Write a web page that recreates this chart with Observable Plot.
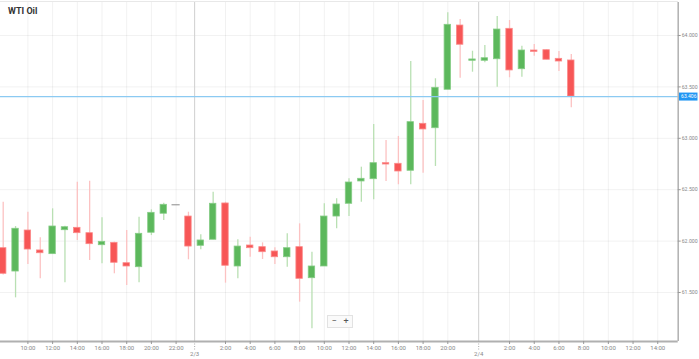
<!DOCTYPE html>
<html>
<head>
<meta charset="utf-8">
<script src="https://cdn.jsdelivr.net/npm/d3@7"></script>
<script src="https://cdn.jsdelivr.net/npm/@observablehq/plot@0.6"></script>
<style>
  body { margin: 0; background: #fff; font-family: Roboto, "Open Sans", sans-serif; }
  #wrap { position: relative; width: 699px; height: 359px; overflow: hidden; }
  #title { position: absolute; left: 8px; top: 6px; font: bold 9px Roboto, sans-serif; color: #333; }
  #zoombox { position: absolute; left: 327px; top: 315px; width: 24px; height: 11px; border: 1px solid #e2e2e2;
    background: #fafafa; font: 9px Roboto, sans-serif; color: #555; display: flex; justify-content: space-around; align-items: center; line-height: 9px; }
  #topline { position: absolute; left: 0; top: 1px; width: 678px; height: 1px; background: #e8e8e8; }
</style>
</head>
<body>
<div id="wrap">
  <div id="topline"></div>
  <div id="chart"></div>
  <div id="title">WTI Oil</div>
  <div id="zoombox"><span>−</span><span>+</span></div>
</div>
<script>
// Hourly candles, 2/2 08:00 → 2/4 07:00 (2/3 22:00 session break skipped)
const times = [
  "2/2 08:00","2/2 09:00","2/2 10:00","2/2 11:00","2/2 12:00","2/2 13:00","2/2 14:00","2/2 15:00",
  "2/2 16:00","2/2 17:00","2/2 18:00","2/2 19:00","2/2 20:00","2/2 21:00","2/2 22:00","2/2 23:00",
  "2/3 00:00","2/3 01:00","2/3 02:00","2/3 03:00","2/3 04:00","2/3 05:00","2/3 06:00","2/3 07:00",
  "2/3 08:00","2/3 09:00","2/3 10:00","2/3 11:00","2/3 12:00","2/3 13:00","2/3 14:00","2/3 15:00",
  "2/3 16:00","2/3 17:00","2/3 18:00","2/3 19:00","2/3 20:00","2/3 21:00","2/3 23:00",
  "2/4 00:00","2/4 01:00","2/4 02:00","2/4 03:00","2/4 04:00","2/4 05:00","2/4 06:00","2/4 07:00"
];
const open  = [61.931,61.704,62.103,61.909,61.873,62.106,62.129,62.077,61.960,61.983,61.785,61.746,62.081,62.266,62.353,62.239,
               61.954,62.013,62.366,61.753,61.957,61.941,61.899,61.843,61.941,61.639,61.753,62.239,62.363,62.580,62.602,62.758,
               62.752,62.684,63.141,63.098,63.472,64.097,63.754,63.754,63.769,64.065,63.672,63.854,63.857,63.773,63.757];
const high  = [62.378,62.142,62.281,62.032,62.314,62.145,62.573,62.583,62.227,61.990,62.103,62.233,62.304,62.369,62.353,62.281,
               62.061,62.476,62.378,62.013,62.038,61.983,61.935,62.071,62.168,61.892,62.363,62.411,62.606,62.719,63.134,62.979,
               63.018,63.747,63.368,63.579,64.221,64.156,63.847,63.903,64.185,64.146,63.896,63.912,63.860,63.844,63.815];
const low   = [61.670,61.448,61.772,61.633,61.873,61.594,62.006,61.811,61.779,61.682,61.568,61.594,62.054,62.200,62.353,61.818,
               61.915,62.013,61.591,61.633,61.843,61.821,61.772,61.746,61.406,61.147,61.753,62.120,62.239,62.378,62.402,62.580,
               62.548,62.548,62.661,62.726,63.472,63.585,63.643,63.734,63.497,63.589,63.594,63.799,63.764,63.650,63.297];
const close = [61.682,62.120,61.918,61.882,62.142,62.135,62.077,61.970,61.993,61.789,61.753,62.071,62.275,62.353,62.353,61.947,
               62.006,62.363,61.760,61.947,61.931,61.892,61.843,61.931,61.633,61.753,62.239,62.356,62.570,62.606,62.758,62.745,
               62.677,63.157,63.086,63.491,64.104,63.910,63.767,63.779,64.058,63.660,63.854,63.841,63.764,63.747,63.406];

// x-axis ticks (slot positions) and labels
const tickSlots  = [2,4,6,8,10,12,14, 18,20,22,24,26,28,30,32,34,36, 41,43,45,47,49,51,53];
const tickLabels = ["10:00","12:00","14:00","16:00","18:00","20:00","22:00",
                    "2:00","4:00","6:00","8:00","10:00","12:00","14:00","16:00","18:00","20:00",
                    "2:00","4:00","6:00","8:00","10:00","12:00","14:00"];
const daySlots  = [15.5, 38.5];
const dayLabels = ["2/3", "2/4"];
const yTicks = [61.5, 62.0, 62.5, 63.0, 63.5, 64.0];

const candles = times.map((t, i) => ({
  i, t, o: open[i], h: high[i], l: low[i], c: close[i],
  dir: close[i] > open[i] ? "up" : close[i] < open[i] ? "down" : "flat"
}));
const bodies = candles.filter(d => d.dir !== "flat");
const flats = candles.filter(d => d.dir === "flat");
const last = close[close.length - 1];

const xDomain = [-0.219, 54.656];
const yDomain = [61.0233, 64.321];
const pxPerUnit = 339 / (yDomain[1] - yDomain[0]);
const slotPx = 677.7 / (xDomain[1] - xDomain[0]);

const GREEN = "#5cb85c", RED = "#f75656";
const fillC = d => d.dir === "up" ? GREEN : RED;
const edgeC = d => d.dir === "up" ? "#86cc86" : "#fb8a8a";
const wickC = d => d.dir === "up" ? "#b9e0b3" : d.dir === "down" ? "#fcc2c2" : "#999";
const tickMap = new Map(tickSlots.map((s, k) => [s, tickLabels[k]]));

const chart = Plot.plot({
  width: 699, height: 359,
  marginLeft: 0, marginRight: 21.3, marginTop: 2, marginBottom: 18,
  style: { fontFamily: "Roboto, sans-serif", background: "transparent", overflow: "visible" },
  x: { type: "linear", domain: xDomain, axis: null },
  y: { type: "linear", domain: yDomain, axis: null },
  marks: [
    Plot.gridX(tickSlots, { stroke: "#000", strokeOpacity: 0.055 }),
    Plot.gridY(yTicks, { stroke: "#000", strokeOpacity: 0.055 }),
    Plot.ruleX(daySlots, { stroke: "#cfcfcf", strokeWidth: 1 }),
    // candles
    Plot.ruleX(candles.filter(d => d.dir !== "flat"), { x: "i", y1: "l", y2: "h", stroke: wickC, strokeWidth: 1.3 }),
    Plot.rect(bodies, {
      x1: d => d.i - 0.26, x2: d => d.i + 0.26,
      y1: d => Math.min(d.o, d.c), y2: d => Math.max(d.o, d.c),
      fill: fillC, stroke: edgeC, strokeWidth: 0.8
    }),
    Plot.ruleY(flats, { y: "c", x1: d => d.i - 0.33, x2: d => d.i + 0.33, stroke: "#8a8a8a", strokeWidth: 1 }),
    // current price line
    Plot.ruleY([last], { x1: xDomain[0], x2: xDomain[1], stroke: "#8ccaf2", strokeWidth: 1.3 }),
    // axes lines
    Plot.ruleX([xDomain[1]], { stroke: "#b0b0b0", strokeWidth: 1.5 }),
    Plot.ruleY([yDomain[0]], { x1: xDomain[0], x2: xDomain[1], stroke: "#b0b0b0", strokeWidth: 2 }),
    // y axis ticks + labels (right)
    Plot.ruleY(yTicks, { x1: xDomain[1], x2: xDomain[1] + 3 / slotPx, stroke: "#999" }),
    Plot.text(yTicks, { x: xDomain[1], y: d => d, dx: 3.5, text: d => d3.format(".3f")(d), textAnchor: "start", fontSize: 5.2, fill: "#888" }),
    // current price label
    Plot.ruleY([last], { x1: xDomain[1] + 1.3 / slotPx, x2: xDomain[1] + 19.8 / slotPx, stroke: "#2196f3", strokeWidth: 8 }),
    Plot.text([last], { x: xDomain[1], y: d => d, dx: 10.6, text: d => d3.format(".3f")(d), fontSize: 5, fill: "#fff" }),
    // x axis ticks + labels
    Plot.ruleX(tickSlots, { y1: yDomain[0], y2: yDomain[0] - 3 / pxPerUnit, stroke: "#999" }),
    Plot.text(tickSlots, { x: d => d, y: yDomain[0], dy: 6.5, text: d => tickMap.get(d), fontSize: 6, fill: "#888" }),
    Plot.ruleX(daySlots, { y1: yDomain[0], y2: yDomain[0] - 9 / pxPerUnit, stroke: "#aaa", strokeDasharray: "1,1.5" }),
    Plot.text(daySlots, { x: d => d, y: yDomain[0], dy: 13, text: (d, k) => dayLabels[k], fontSize: 6, fill: "#888" })
  ]
});
document.getElementById("chart").appendChild(chart);
</script>
</body>
</html>
